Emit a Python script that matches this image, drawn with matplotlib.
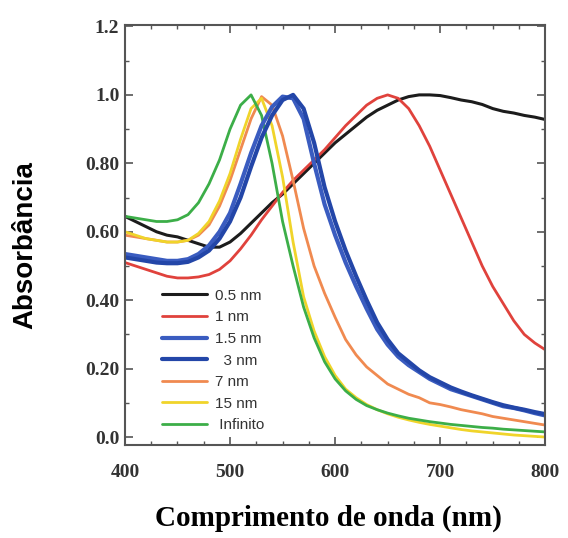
import numpy as np
import matplotlib
matplotlib.use("Agg")
import matplotlib.pyplot as plt
from matplotlib.ticker import MultipleLocator, FixedLocator, FixedFormatter

# wavelength grid (nm)
wavelength = list(range(400, 801, 10))

abs_05nm = [0.645, 0.63, 0.615, 0.60, 0.59, 0.585, 0.575, 0.565, 0.555, 0.555,
            0.57, 0.595, 0.625, 0.655, 0.685, 0.71, 0.74, 0.77, 0.80, 0.83,
            0.86, 0.885, 0.91, 0.935, 0.955, 0.97, 0.985, 0.995, 1.0, 1.0,
            0.998, 0.992, 0.985, 0.98, 0.972, 0.96, 0.952, 0.947, 0.94, 0.935, 0.928]
abs_1nm = [0.51, 0.50, 0.49, 0.48, 0.47, 0.465, 0.465, 0.468, 0.475, 0.49,
           0.515, 0.55, 0.59, 0.635, 0.675, 0.715, 0.75, 0.78, 0.81, 0.84,
           0.875, 0.91, 0.94, 0.97, 0.99, 1.0, 0.99, 0.96, 0.91, 0.85,
           0.78, 0.71, 0.64, 0.57, 0.50, 0.44, 0.39, 0.34, 0.30, 0.275, 0.255]
abs_15nm = [0.535, 0.53, 0.525, 0.52, 0.515, 0.515, 0.52, 0.535, 0.56, 0.60,
            0.655, 0.74, 0.83, 0.91, 0.965, 0.995, 0.99, 0.93, 0.80, 0.68,
            0.59, 0.51, 0.44, 0.375, 0.315, 0.27, 0.235, 0.21, 0.19, 0.17,
            0.155, 0.14, 0.13, 0.12, 0.11, 0.10, 0.09, 0.085, 0.078, 0.07, 0.063]
abs_3nm = [0.525, 0.52, 0.515, 0.51, 0.508, 0.508, 0.512, 0.525, 0.545, 0.58,
           0.63, 0.70, 0.79, 0.875, 0.94, 0.985, 1.0, 0.96, 0.86, 0.73,
           0.63, 0.545, 0.47, 0.40, 0.335, 0.285, 0.245, 0.22, 0.195, 0.175,
           0.16, 0.145, 0.133, 0.122, 0.112, 0.102, 0.093, 0.086, 0.08, 0.073, 0.067]
abs_7nm = [0.59, 0.585, 0.58, 0.575, 0.57, 0.57, 0.575, 0.59, 0.62, 0.675,
           0.75, 0.84, 0.93, 0.995, 0.97, 0.88, 0.75, 0.61, 0.50, 0.42,
           0.35, 0.285, 0.24, 0.205, 0.18, 0.155, 0.14, 0.125, 0.115, 0.10,
           0.095, 0.088, 0.08, 0.074, 0.068, 0.06, 0.055, 0.05, 0.045, 0.04, 0.035]
abs_15nm_big = [0.60, 0.59, 0.58, 0.575, 0.57, 0.57, 0.575, 0.595, 0.63, 0.69,
                0.77, 0.87, 0.96, 0.99, 0.91, 0.76, 0.57, 0.41, 0.31, 0.235,
                0.18, 0.14, 0.115, 0.095, 0.08, 0.068, 0.058, 0.05, 0.043, 0.037,
                0.032, 0.027, 0.022, 0.018, 0.015, 0.012, 0.009, 0.006, 0.004, 0.002, 0.0]
abs_inf = [0.645, 0.64, 0.635, 0.63, 0.63, 0.635, 0.65, 0.685, 0.74, 0.81,
           0.90, 0.97, 1.0, 0.94, 0.80, 0.63, 0.50, 0.38, 0.29, 0.22,
           0.17, 0.135, 0.11, 0.092, 0.08, 0.07, 0.062, 0.055, 0.05, 0.045,
           0.041, 0.037, 0.034, 0.031, 0.028, 0.026, 0.023, 0.021, 0.019, 0.017, 0.015]

labels = ["0.5 nm", "1 nm", "1.5 nm", "  3 nm", "7 nm", "15 nm", " Infinito"]
series = [abs_05nm, abs_1nm, abs_15nm, abs_3nm, abs_7nm, abs_15nm_big, abs_inf]
colors = ["#1c1c1c", "#e0423c", "#3a5cc0", "#2346a8", "#f08a50", "#f0d42a", "#3cae48"]
widths = [2.2, 2.0, 3.0, 3.0, 2.0, 2.0, 2.0]

ytick_vals = [0.0, 0.2, 0.4, 0.6, 0.8, 1.0, 1.2]
ytick_labels = ["0.0", "0.20", "0.40", "0.60", "0.80", "1.0", "1.2"]
xtick_vals = [400, 500, 600, 700, 800]

fig = plt.figure(figsize=(5.68, 5.38), dpi=100)
ax = fig.add_axes([0.22, 0.173, 0.74, 0.781])

# draw back to front so green ends on top like the original
order = [0, 1, 4, 5, 6, 2, 3]
handles = {}
for i in order:
    h, = ax.plot(wavelength, series[i], color=colors[i], lw=widths[i],
                 solid_capstyle="round", label=labels[i])
    handles[i] = h

ax.set_xlim(400, 800)
ax.set_ylim(-0.023, 1.205)

ax.xaxis.set_major_locator(FixedLocator(xtick_vals))
ax.xaxis.set_minor_locator(MultipleLocator(25))
ax.yaxis.set_major_locator(FixedLocator(ytick_vals))
ax.yaxis.set_major_formatter(FixedFormatter(ytick_labels))
ax.yaxis.set_minor_locator(MultipleLocator(0.1))
ax.tick_params(which="both", direction="in", top=True, right=True, color="#555555")
ax.tick_params(which="major", length=6, width=1.2)
ax.tick_params(which="minor", length=3, width=1.0)
ax.tick_params(axis="x", pad=14)
ax.tick_params(axis="y", pad=4)
for lab in ax.get_xticklabels() + ax.get_yticklabels():
    lab.set_family("Liberation Serif")
    lab.set_fontweight("bold")
    lab.set_fontsize(14)
    lab.set_color("#333333")
for sp in ax.spines.values():
    sp.set_linewidth(1.5)
    sp.set_color("#555555")

ax.set_xlabel("Comprimento de onda (nm)", family="Liberation Serif",
              fontweight="bold", fontsize=21)
ax.set_ylabel("Absorbância", family="Liberation Sans", fontweight="bold",
              fontsize=20)
ax.xaxis.set_label_coords(0.485, -0.142)
ax.yaxis.set_label_coords(-0.205, 0.476)

leg = ax.legend([handles[i] for i in range(7)], labels, loc="upper left",
                bbox_to_anchor=(0.088, 0.372), frameon=False,
                prop={"family": "Liberation Sans", "size": 11},
                handlelength=2.95, handletextpad=0.5, labelspacing=0.5,
                borderaxespad=0, borderpad=0)
for t in leg.get_texts():
    t.set_color("#333333")

fig.savefig("out.png", dpi=100)
